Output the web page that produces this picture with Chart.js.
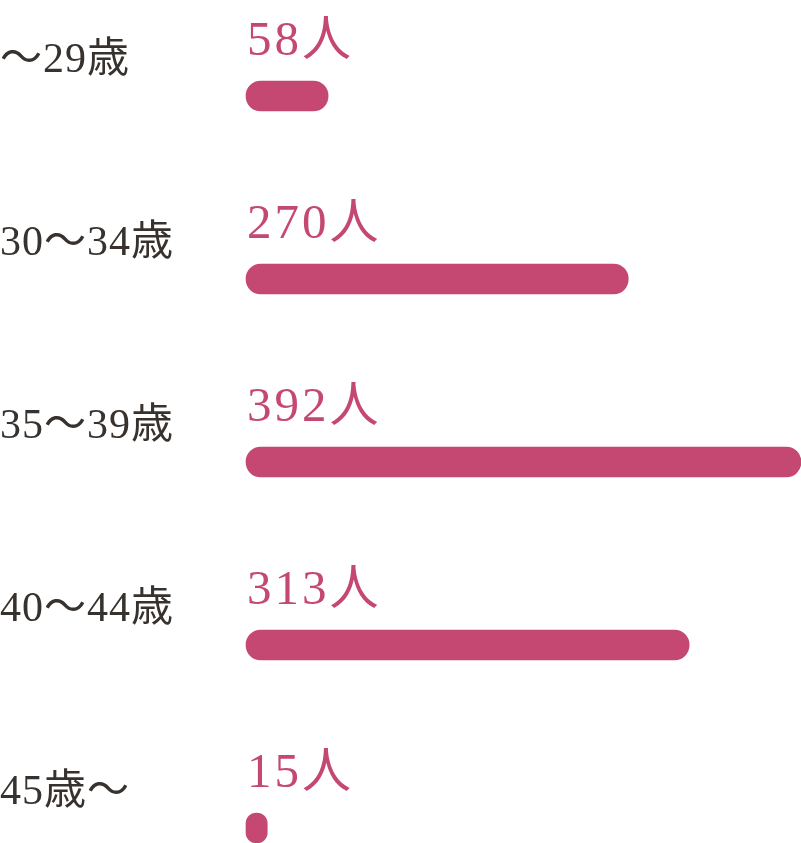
<!DOCTYPE html>
<html>
<head>
<meta charset="utf-8">
<script src="https://cdn.jsdelivr.net/npm/chart.js@4"></script>
<style>
html,body{margin:0;padding:0;background:#fff;}
canvas{display:block;}
</style>
</head>
<body>
<canvas id="c" width="801" height="843"></canvas>
<script>
const categories = ["～29歳", "30～34歳", "35～39歳", "40～44歳", "45歳～"];
const values = [58, 270, 392, 313, 15];
const valueLabels = ["58人", "270人", "392人", "313人", "15人"];

const PINK = "#c44872";
const DARK = "#37322e";

const labelPlugin = {
  id: "labels",
  afterDatasetsDraw(chart) {
    const ctx = chart.ctx;
    const meta = chart.getDatasetMeta(0);
    const left = chart.chartArea.left;
    ctx.save();
    ctx.textAlign = "left";
    ctx.textBaseline = "alphabetic";
    meta.data.forEach((bar, i) => {
      const y = bar.y;
      ctx.fillStyle = DARK;
      ctx.font = "42px 'Liberation Serif', 'Noto Sans CJK JP', serif";
      if ("letterSpacing" in ctx) ctx.letterSpacing = "1px";
      ctx.fillText(categories[i], 0, y - 24);
      ctx.fillStyle = PINK;
      ctx.font = "49px 'Liberation Serif', 'Noto Sans CJK JP', serif";
      if ("letterSpacing" in ctx) ctx.letterSpacing = "3px";
      ctx.fillText(valueLabels[i], left + 1, y - 41);
    });
    ctx.restore();
  }
};

new Chart(document.getElementById("c"), {
  type: "bar",
  data: {
    labels: categories,
    datasets: [{
      data: values,
      backgroundColor: PINK,
      borderRadius: 15,
      borderSkipped: false,
      barThickness: 30,
      clip: false
    }]
  },
  options: {
    indexAxis: "y",
    responsive: false,
    animation: false,
    devicePixelRatio: 1,
    layout: { padding: { left: 246, right: 0, top: 96, bottom: 15 } },
    plugins: { legend: { display: false }, tooltip: { enabled: false } },
    scales: {
      x: { display: false, min: 0, max: 392 },
      y: { display: false, offset: false }
    }
  },
  plugins: [labelPlugin]
});
</script>
</body>
</html>
